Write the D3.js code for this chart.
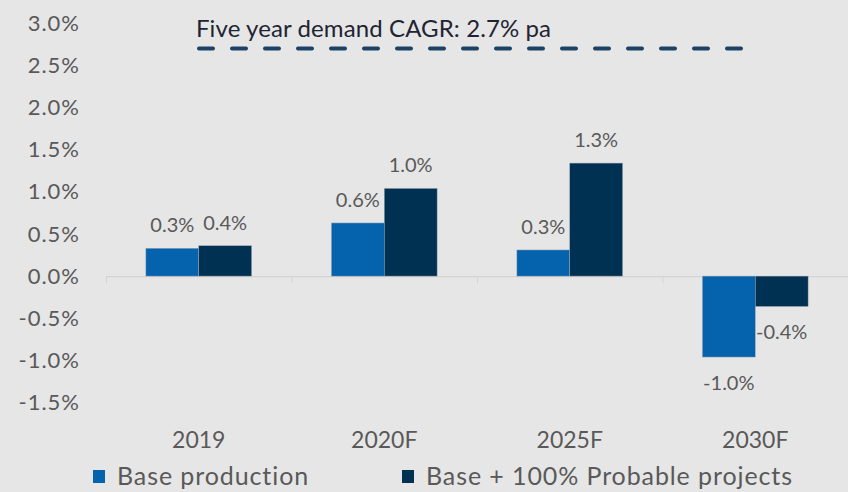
<!DOCTYPE html>
<html>
<head>
<meta charset="utf-8">
<script src="https://cdn.jsdelivr.net/npm/d3@7"></script>
<style>
  html, body { margin: 0; padding: 0; background: #e6e6e6; }
  svg { display: block; font-family: Lato, "Open Sans", sans-serif; }
</style>
</head>
<body>
<div id="chart"></div>
<script>
// Data (percent growth)
const categories = ["2019", "2020F", "2025F", "2030F"];
const seriesNames = ["Base production", "Base + 100% Probable projects"];
const baseValues = [0.33, 0.63, 0.31, -0.96];
const probableValues = [0.36, 1.04, 1.34, -0.36];
const yTicks = [3.0, 2.5, 2.0, 1.5, 1.0, 0.5, 0.0, -0.5, -1.0, -1.5];
const cagrValue = 2.7;
const cagrLabel = "Five year demand CAGR: 2.7% pa";

const colors = ["#0563ae", "#003153"];
const width = 848, height = 492;

const svg = d3.select("#chart").append("svg")
  .attr("width", width)
  .attr("height", height);

svg.append("rect").attr("width", width).attr("height", height).attr("fill", "#e6e6e6");

// Scales
const x = d3.scaleBand()
  .domain(categories)
  .range([106, 848])
  .paddingInner(0.43)
  .paddingOuter(0.215);

const x1 = d3.scaleBand()
  .domain([0, 1])
  .range([0, x.bandwidth()]);

const y = d3.scaleLinear()
  .domain([-1.5, 3.0])
  .range([402.6, 23.1]);

// plain hyphen for negatives, like the source
const fmt = d => d3.format(".1f")(d).replace("\u2212", "-") + "%";

// Y tick labels (no axis line)
svg.append("g").selectAll("text")
  .data(yTicks)
  .join("text")
  .attr("x", 80)
  .attr("y", d => y(d))
  .attr("dy", "0.35em")
  .attr("text-anchor", "end")
  .attr("font-size", 22)
  .attr("letter-spacing", 1)
  .attr("fill", "#595959")
  .text(fmt);

// Zero line with category boundary ticks
const axis = svg.append("g")
  .attr("transform", `translate(0,${y(0)})`)
  .call(d3.axisBottom(x).tickSize(0).tickFormat(""));
axis.select(".domain").attr("stroke", "#d4d4d4").attr("stroke-width", 1.2);
const step = x.step();
axis.selectAll(".bound")
  .data(d3.range(categories.length + 1))
  .join("line")
  .attr("x1", i => 106.5 + i * step)
  .attr("x2", i => 106.5 + i * step)
  .attr("y1", 0).attr("y2", 7)
  .attr("stroke", "#d4d4d4");

// Category labels
svg.append("g").selectAll("text")
  .data(categories)
  .join("text")
  .attr("x", d => x(d) + x.bandwidth() / 2)
  .attr("y", 448)
  .attr("text-anchor", "middle")
  .attr("font-size", 23)
  .attr("fill", "#595959")
  .text(d => d);

// Bars
const rows = categories.map((c, i) => ({ cat: c, vals: [baseValues[i], probableValues[i]] }));

const groups = svg.append("g").selectAll("g")
  .data(rows)
  .join("g")
  .attr("transform", d => `translate(${x(d.cat)},0)`);

groups.selectAll("rect")
  .data(d => d.vals.map((v, k) => ({ v, k })))
  .join("rect")
  .attr("x", d => x1(d.k))
  .attr("width", x1.bandwidth())
  .attr("y", d => y(Math.max(0, d.v)))
  .attr("height", d => Math.abs(y(d.v) - y(0)))
  .attr("fill", d => colors[d.k])
  .attr("stroke", "#9aa7b3")
  .attr("stroke-width", 0.5);

// Value labels
groups.selectAll("text")
  .data(d => d.vals.map((v, k) => ({ v, k })))
  .join("text")
  .attr("x", d => x1(d.k) + x1.bandwidth() / 2)
  .attr("y", d => d.v >= 0 ? y(d.v) - 16 : y(d.v) + 33)
  .attr("text-anchor", "middle")
  .attr("font-size", 20)
  .attr("fill", "#595959")
  .text(d => fmt(d.v));

// CAGR dashed line and label
svg.append("line")
  .attr("x1", 199).attr("x2", 743)
  .attr("y1", y(cagrValue)).attr("y2", y(cagrValue))
  .attr("stroke", "#1c4366")
  .attr("stroke-width", 4)
  .attr("stroke-linecap", "round")
  .attr("stroke-dasharray", "14 19");

svg.append("text")
  .attr("x", 196)
  .attr("y", 37)
  .attr("font-size", 24)
  .attr("letter-spacing", 0.1)
  .attr("fill", "#1f2433")
  .text(cagrLabel);

// Legend
const legendX = [93, 402];
const legend = svg.append("g").selectAll("g")
  .data(seriesNames)
  .join("g")
  .attr("transform", (d, i) => `translate(${legendX[i]},0)`);

legend.append("rect")
  .attr("x", 0).attr("y", 470)
  .attr("width", 12).attr("height", 13)
  .attr("fill", (d, i) => colors[i]);

legend.append("text")
  .attr("x", 24)
  .attr("y", 485)
  .attr("font-size", 25)
  .attr("letter-spacing", 0.9)
  .attr("fill", "#595959")
  .text(d => d);
</script>
</body>
</html>
